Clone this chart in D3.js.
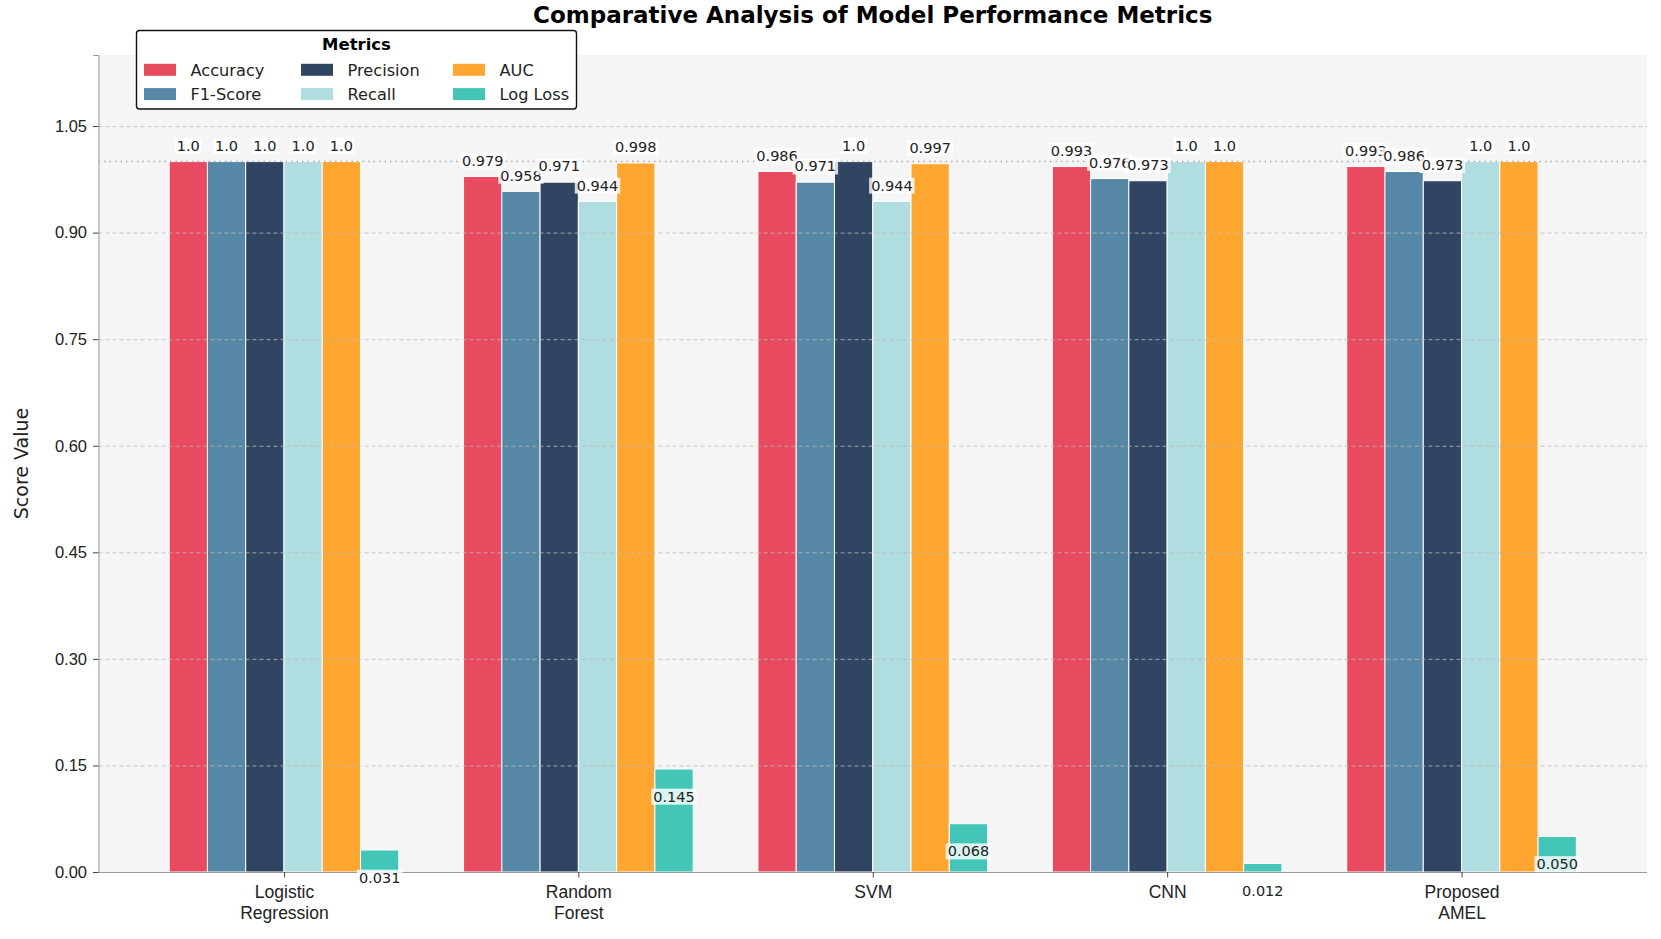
<!DOCTYPE html>
<html>
  <head>
    <meta charset="utf-8">
    <title>Comparative Analysis of Model Performance Metrics</title>
    <script src="https://cdn.jsdelivr.net/npm/d3@7/dist/d3.min.js"></script>
    <style>
      body {
        margin: 0px;
        overflow: hidden;
        background: white;
        font-family: "DejaVu Sans", sans-serif;
      }

      .grid line {
        stroke: #bbbbbb;
        stroke-width: 1px;
        stroke-dasharray: 4 3;
        stroke-opacity: 0.8;
      }

      .tick text {
        fill: #222;
      }

      .bar {
        stroke: white;
        stroke-width: 1px;
      }

      .value-label {
        font-size: 14.5px;
        fill: #222;
        text-anchor: middle;
      }

      .label-box {
        fill: white;
        fill-opacity: 0.8;
      }
    </style>
  </head>
  <body>
    <svg id="chart" width="1661" height="939"></svg>

    <script type="text/javascript">
      var models = ['Logistic\nRegression', 'Random\nForest', 'SVM', 'CNN', 'Proposed\nAMEL'];
      var metrics = ['Accuracy', 'F1-Score', 'Precision', 'Recall', 'AUC', 'Log Loss'];
      var colors = ['#e84a5f', '#5687a7', '#2f4562', '#b0dde0', '#ffa630', '#43c6b8'];

      // one array per metric, in model order
      var accuracy  = [1.0, 0.979, 0.986, 0.993, 0.993];
      var f1Score   = [1.0, 0.958, 0.971, 0.976, 0.986];
      var precision = [1.0, 0.971, 1.0,   0.973, 0.973];
      var recall    = [1.0, 0.944, 0.944, 1.0,   1.0];
      var auc       = [1.0, 0.998, 0.997, 1.0,   1.0];
      var logLoss   = [0.031, 0.145, 0.068, 0.012, 0.050];

      var yTicks = [0.00, 0.15, 0.30, 0.45, 0.60, 0.75, 0.90, 1.05];

      var series = [accuracy, f1Score, precision, recall, auc, logLoss];

      var margin = { left: 98.5, right: 14, top: 55, bottom: 67 },
        width = 1661,
        height = 939,
        svg = d3.select('#chart');

      var x = d3.scaleLinear()
        .domain([-0.63, models.length - 1 + 0.63])
        .range([margin.left, width - margin.right]);

      var y = d3.scaleLinear()
        .domain([0, 1.15])
        .range([height - margin.bottom, margin.top]);

      var barW = 0.13;
      // centre of metric j's bar inside group i
      var barCenter = function (i, j) { return i + (j - (metrics.length - 1) / 2) * barW; };

      // plot background
      svg.append('rect')
        .attr('x', x.range()[0])
        .attr('y', y.range()[1])
        .attr('width', x.range()[1] - x.range()[0])
        .attr('height', y.range()[0] - y.range()[1])
        .attr('fill', '#f5f5f5');

      /*
        Bars
      */
      series.forEach(function (vals, j) {
        svg.append('g')
          .selectAll('rect')
          .data(vals)
          .enter().append('rect')
          .attr('class', 'bar')
          .attr('fill', colors[j])
          .attr('x', function (d, i) { return x(barCenter(i, j) - barW / 2); })
          .attr('width', x(barW) - x(0))
          .attr('y', function (d) { return y(d); })
          .attr('height', function (d) { return y(0) - y(d); });
      });

      /*
        Grid over the bars, plus dotted reference at 1.0
      */
      svg.append('g')
        .attr('class', 'grid')
        .selectAll('line')
        .data(yTicks.slice(1))
        .enter().append('line')
        .attr('x1', x.range()[0])
        .attr('x2', x.range()[1])
        .attr('y1', function (d) { return y(d) + 0.5; })
        .attr('y2', function (d) { return y(d) + 0.5; });

      svg.append('line')
        .attr('x1', x.range()[0])
        .attr('x2', x.range()[1])
        .attr('y1', y(1.0))
        .attr('y2', y(1.0))
        .attr('stroke', '#aaaaaa')
        .attr('stroke-width', 1.5)
        .attr('stroke-dasharray', '1.5 4');

      /*
        Axes
      */
      var yAxis = svg.append('g')
        .attr('transform', 'translate(' + x.range()[0] + ',0)')
        .call(d3.axisLeft(y).tickValues(yTicks).tickFormat(d3.format('.2f')).tickSize(5.5).tickPadding(6));
      yAxis.select('.domain').attr('stroke', '#999');
      yAxis.selectAll('.tick line').attr('stroke', '#444');
      yAxis.selectAll('.tick text').style('font-size', '16.5px');

      var xAxis = svg.append('g')
        .attr('transform', 'translate(0,' + y(0) + ')')
        .call(d3.axisBottom(x).tickValues(d3.range(models.length)).tickSize(5.5).tickFormat(''));
      xAxis.select('.domain').attr('stroke', '#999').attr('d', 'M' + x.range()[0] + ',0.5H' + x.range()[1]);
      xAxis.selectAll('.tick line').attr('stroke', '#444');
      xAxis.selectAll('.tick').append('text')
        .attr('fill', '#222')
        .style('font-size', '17.5px')
        .attr('text-anchor', 'middle')
        .selectAll('tspan')
        .data(function (d) { return models[d].split('\n'); })
        .enter().append('tspan')
        .attr('x', 0)
        .attr('y', function (d, k) { return 26 + k * 21; })
        .text(function (d) { return d; });

      /*
        Value labels (drawn above all bars, later ones on top)
      */
      var fmt = function (v, j) { return (j < 5 && v === 1) ? '1.0' : v.toFixed(3); };
      var labels = svg.append('g');
      series.forEach(function (vals, j) {
        vals.forEach(function (v, i) {
          var g = labels.append('g');
          var cx = x(barCenter(i, j));
          var ty = j < 5 ? y(v) - 10.7 : y(v) + 32.7;
          var t = g.append('text')
            .attr('class', 'value-label')
            .attr('x', cx)
            .attr('y', ty)
            .text(fmt(v, j));
          var bb = t.node().getBBox();
          g.insert('rect', 'text')
            .attr('class', 'label-box')
            .attr('x', bb.x - 2)
            .attr('y', bb.y)
            .attr('width', bb.width + 4)
            .attr('height', bb.height);
        });
      });

      /*
        Title and axis label
      */
      svg.append('text')
        .attr('x', (x.range()[0] + x.range()[1]) / 2)
        .attr('y', 23)
        .attr('text-anchor', 'middle')
        .style('font-size', '23px')
        .style('font-weight', 'bold')
        .text('Comparative Analysis of Model Performance Metrics');

      svg.append('text')
        .attr('transform', 'translate(28,' + (y.range()[0] + y.range()[1]) / 2 + ') rotate(-90)')
        .attr('text-anchor', 'middle')
        .style('font-size', '19px')
        .attr('fill', '#222')
        .text('Score Value');

      /*
        Legend
      */
      var legend = svg.append('g').attr('transform', 'translate(136.5,30.5)');
      legend.append('rect')
        .attr('width', 440)
        .attr('height', 78.5)
        .attr('rx', 3)
        .attr('fill', 'white')
        .attr('stroke', '#111')
        .attr('stroke-width', 1.4);
      legend.append('text')
        .attr('x', 220)
        .attr('y', 19.8)
        .attr('text-anchor', 'middle')
        .style('font-size', '16.5px')
        .style('font-weight', 'bold')
        .text('Metrics');

      var colX = [7.5, 164.5, 316.5];
      metrics.forEach(function (m, j) {
        var col = Math.floor(j / 2), row = j % 2;
        var item = legend.append('g')
          .attr('transform', 'translate(' + colX[col] + ',' + (39.3 + row * 24.3) + ')');
        item.append('rect')
          .attr('y', -6)
          .attr('width', 32)
          .attr('height', 12)
          .attr('fill', colors[j]);
        item.append('text')
          .attr('x', 46.5)
          .attr('y', 6)
          .style('font-size', '16.2px')
          .attr('fill', '#222')
          .text(m);
      });
    </script>
  </body>
</html>
